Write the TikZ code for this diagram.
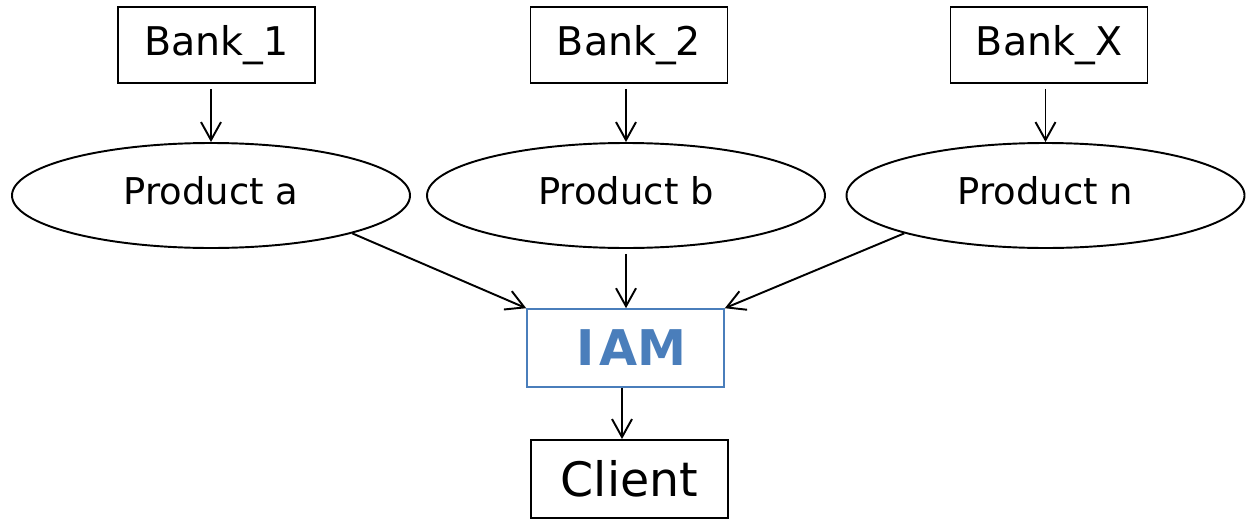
\documentclass[tikz,border=0pt]{standalone}
\usepackage{fontspec}
\setmainfont{DejaVu Sans}
\usepackage{tikz}
\usetikzlibrary{positioning}
\usetikzlibrary{shapes.geometric}
\usetikzlibrary{arrows.meta}
\definecolor{iamblue}{RGB}{74,126,187}

\begin{document}
\begin{tikzpicture}[
            bankbox/.style={draw, line width=1.1pt, minimum width=3.94cm, minimum height=1.52cm, inner sep=0pt, font=\fontsize{22.5}{26}\selectfont},
            prodell/.style={ellipse, draw, line width=1.1pt, minimum width=7.96cm, minimum height=2.1cm, inner sep=0pt, text depth=0.22cm, font=\fontsize{21}{25}\selectfont},
            arr/.style={-{Straight Barb[length=3.6mm,width=4mm]}, line width=1.1pt}
        ]
            \useasboundingbox (0,0) rectangle (24.98,10.38);
            \node[bankbox] (bank1) at (4.33,9.48) {Bank\_1};
            \node[bankbox] (bank2) at (12.58,9.48) {Bank\_2};
            \node[bankbox] (bankx) at (20.98,9.48) {Bank\_X};
            \node[prodell] (proda) at (4.22,6.47) {Product a};
            \node[prodell] (prodb) at (12.52,6.47) {Product b};
            \node[prodell] (prodn) at (20.91,6.47) {Product n};
            \node[draw=iamblue, line width=0.9pt, text=iamblue, minimum width=3.94cm, minimum height=1.56cm, inner sep=0pt, font=\fontsize{28}{32}\selectfont\bfseries] (iam) at (12.51,3.42) {\hspace{0.25cm}I\kern0.1em AM};
            \node[bankbox, minimum height=1.56cm, font=\fontsize{27}{32}\selectfont] (client) at (12.59,0.8) {Client\hspace{0.1cm}};
            \draw[arr, shorten <=1mm] (proda.north |- bank1.south) -- (proda.north);
            \draw[arr, shorten <=1mm] (prodb.north |- bank2.south) -- (prodb.north);
            \draw[arr, shorten <=1mm] (prodn.north |- bankx.south) -- (prodn.north);
            \draw[arr] (proda.-15) -- (iam.north west);
            \draw[arr, shorten <=1mm] (prodb.south) -- (prodb.south |- iam.north);
            \draw[arr] (prodn.195) -- (iam.north east);
            \draw[arr] ([xshift=-0.07cm]iam.south) -- ([xshift=-0.07cm]iam.south |- client.north);
        \end{tikzpicture}
\end{document}
